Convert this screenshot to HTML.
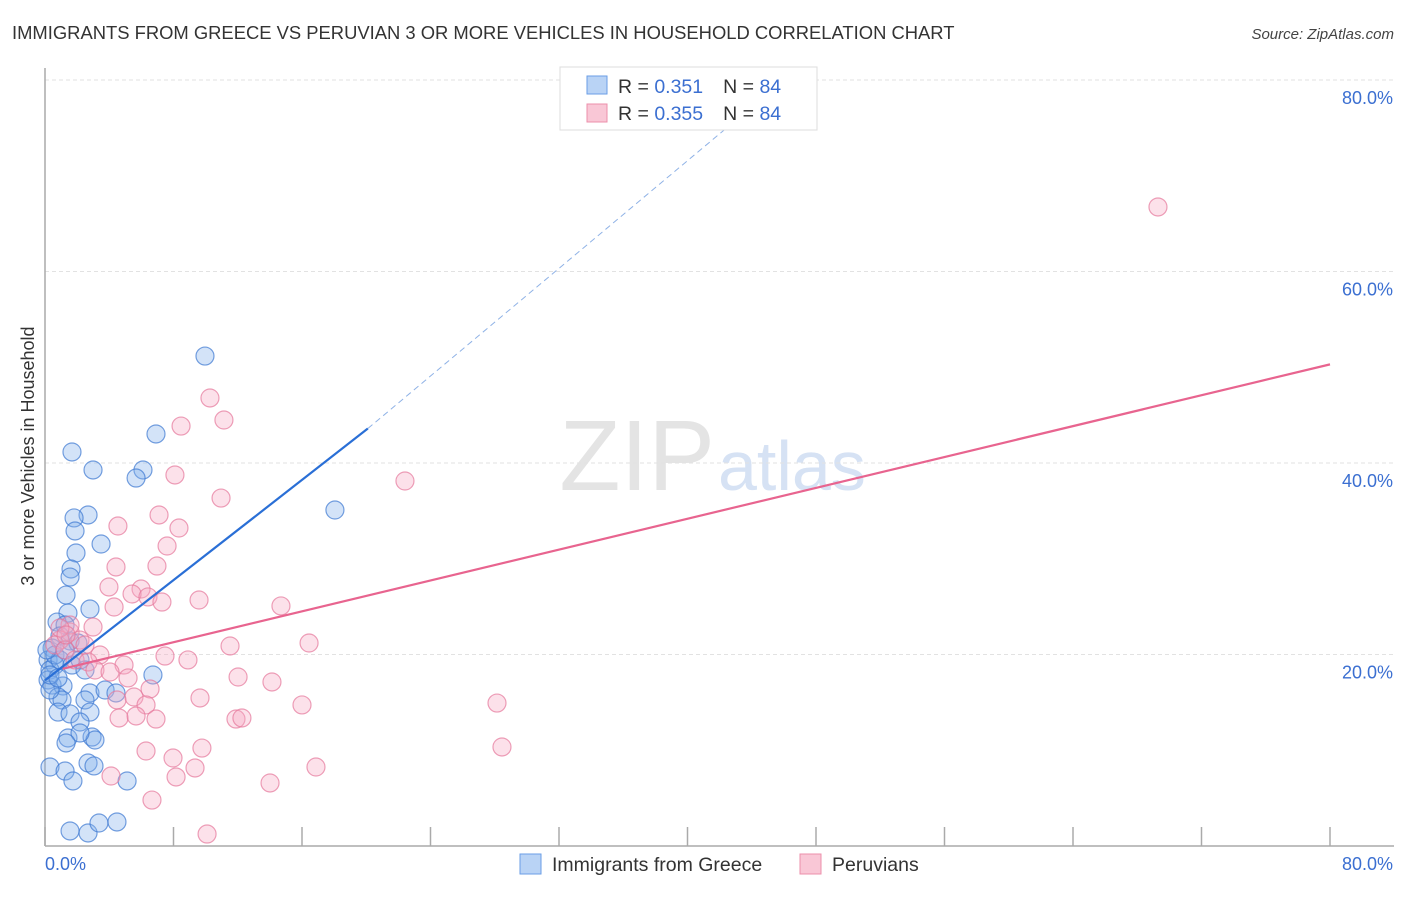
<!DOCTYPE html>
<html><head><meta charset="utf-8"><style>
body{margin:0;background:#fff;font-family:"Liberation Sans",sans-serif}
svg text{font-family:"Liberation Sans",sans-serif}
</style></head><body>
<svg width="1406" height="892">
<text x="12" y="39" font-size="18.4" fill="#333">IMMIGRANTS FROM GREECE VS PERUVIAN 3 OR MORE VEHICLES IN HOUSEHOLD CORRELATION CHART</text>
<text x="1394" y="39" font-size="15" fill="#444" font-style="italic" text-anchor="end">Source: ZipAtlas.com</text>
<text x="715" y="490" font-size="100" fill="#e4e4e4" font-family="Liberation Serif" text-anchor="end">ZIP</text>
<text x="718" y="490" font-size="70" fill="#d6e2f4">atlas</text>
<g id="grid"></g>
<line x1="45" y1="68" x2="45" y2="846" stroke="#aaa" stroke-width="1.5"/>
<line x1="45" y1="846" x2="1394" y2="846" stroke="#aaa" stroke-width="1.5"/>
<g id="xticks"></g>
<text x="45" y="870" font-size="18" fill="#3b6fd1">0.0%</text>
<text x="1393" y="870" font-size="18" fill="#3b6fd1" text-anchor="end">80.0%</text>
<text transform="translate(34,456) rotate(-90)" font-size="18" fill="#333" text-anchor="middle">3 or more Vehicles in Household</text>
<g id="pts"></g>
<g id="lines"></g>
<g>
<rect x="560" y="67" width="257" height="63" fill="#fff" stroke="#ddd"/>
<rect x="587" y="76" width="20" height="18" fill="#b9d3f5" stroke="#6a9ee6"/>
<rect x="587" y="104" width="20" height="18" fill="#f9c7d6" stroke="#ec8fab"/>
<text x="618" y="93" font-size="19.5" fill="#333">R = <tspan fill="#3b6fd1"> 0.351</tspan><tspan dx="20">N = </tspan><tspan fill="#3b6fd1">84</tspan></text>
<text x="618" y="120" font-size="19.5" fill="#333">R = <tspan fill="#3b6fd1">0.355</tspan><tspan dx="20">N = </tspan><tspan fill="#3b6fd1">84</tspan></text>
</g>
<g>
<rect x="520" y="854" width="21" height="20" fill="#b9d3f5" stroke="#6a9ee6"/>
<text x="552" y="871" font-size="19.5" fill="#333">Immigrants from Greece</text>
<rect x="800" y="854" width="21" height="20" fill="#f9c7d6" stroke="#ec8fab"/>
<text x="832" y="871" font-size="19.5" fill="#333">Peruvians</text>
</g>
</svg>
<script>
const yTicks=[20,40,60,80];
const xTickVals=[0,8,16,24,32,40,48,56,64,72,80];
const bluePx=[[205,356],[156,434],[72,452],[93,470],[143,470],[136,478],[335,510],[88,515],[74,518],[75,531],[101,544],[76,553],[71,569],[70,577],[66,595],[90,609],[68,613],[57,622],[65,625],[60,636],[70,641],[78,643],[52,648],[48,660],[55,665],[50,670],[48,680],[52,685],[63,686],[90,693],[105,690],[116,693],[58,697],[62,700],[85,700],[153,675],[58,712],[70,714],[90,712],[80,722],[68,738],[92,737],[95,740],[80,733],[66,743],[50,767],[65,771],[88,763],[94,766],[73,781],[127,781],[70,831],[88,833],[99,823],[117,822],[50,690],[55,655],[60,660],[65,650],[72,665],[80,660],[85,670],[50,675],[58,678],[47,650]];
const pinkPx=[[1158,207],[210,398],[224,420],[181,426],[175,475],[405,481],[221,498],[159,515],[118,526],[179,528],[167,546],[157,566],[116,567],[109,587],[141,589],[132,594],[148,597],[162,602],[199,600],[114,607],[281,606],[93,627],[230,646],[309,643],[70,632],[60,640],[55,645],[65,650],[75,660],[100,655],[88,662],[165,656],[188,660],[124,665],[95,670],[110,672],[128,678],[238,677],[272,682],[150,689],[134,697],[117,700],[200,698],[302,705],[497,703],[146,705],[119,718],[136,716],[156,719],[236,719],[242,718],[202,748],[146,751],[173,758],[195,768],[111,776],[502,747],[316,767],[176,777],[270,783],[152,800],[207,834],[80,640],[70,625],[85,645],[60,628],[66,635]];
// data arrays in percent units
const blueX=bluePx.map(p=>+((p[0]-45)/1285*80).toFixed(2));
const blueY=bluePx.map(p=>+((846-p[1])/191.5*20).toFixed(2));
const pinkX=pinkPx.map(p=>+((p[0]-45)/1285*80).toFixed(2));
const pinkY=pinkPx.map(p=>+((846-p[1])/191.5*20).toFixed(2));
const blueFit=[[0,17.3],[20.1,43.6]];
const blueFitExt=[[20.1,43.6],[45,78.6]];
const pinkFit=[[1.1,18.5],[80,50.3]];
const X=v=>45+v/80*1285, Y=v=>846-v/20*191.5;
const NS='http://www.w3.org/2000/svg';
function mk(t,a,p){const e=document.createElementNS(NS,t);for(const k in a)e.setAttribute(k,a[k]);document.getElementById(p).appendChild(e);return e;}
yTicks.forEach(v=>{
const l=mk('line',{x1:45,x2:1394,y1:Y(v),y2:Y(v),stroke:'#e2e2e2','stroke-dasharray':'4,3'},'grid');


const t=mk('text',{x:1393,y:Y(v)+24,'font-size':18,fill:'#3b6fd1','text-anchor':'end'},'grid');
t.textContent=v.toFixed(1)+'%';


});
xTickVals.forEach(v=>{
const l=mk('line',{x1:X(v),x2:X(v),y1:827,y2:846,stroke:'#aaa','stroke-width':1.5},'xticks');


});
blueX.forEach((x,i)=>{
const c=mk('circle',{cx:X(x),cy:Y(blueY[i]),r:9,fill:'rgba(130,176,236,0.35)',stroke:'rgba(60,120,210,0.7)','stroke-width':1.2},'pts');


});
pinkX.forEach((x,i)=>{
const c=mk('circle',{cx:X(x),cy:Y(pinkY[i]),r:9,fill:'rgba(245,170,195,0.35)',stroke:'rgba(230,120,155,0.7)','stroke-width':1.2},'pts');


});
let l=mk('line',{x1:X(blueFit[0][0]),y1:Y(blueFit[0][1]),x2:X(blueFit[1][0]),y2:Y(blueFit[1][1]),stroke:'#2a6fd6','stroke-width':2.2},'lines');


l=mk('line',{x1:X(blueFitExt[0][0]),y1:Y(blueFitExt[0][1]),x2:X(blueFitExt[1][0]),y2:Y(blueFitExt[1][1]),stroke:'#8fb2e6','stroke-width':1,'stroke-dasharray':'6,4'},'lines');


l=mk('line',{x1:X(pinkFit[0][0]),y1:Y(pinkFit[0][1]),x2:X(pinkFit[1][0]),y2:Y(pinkFit[1][1]),stroke:'#e8648f','stroke-width':2.2},'lines');


</script>
</body></html>
